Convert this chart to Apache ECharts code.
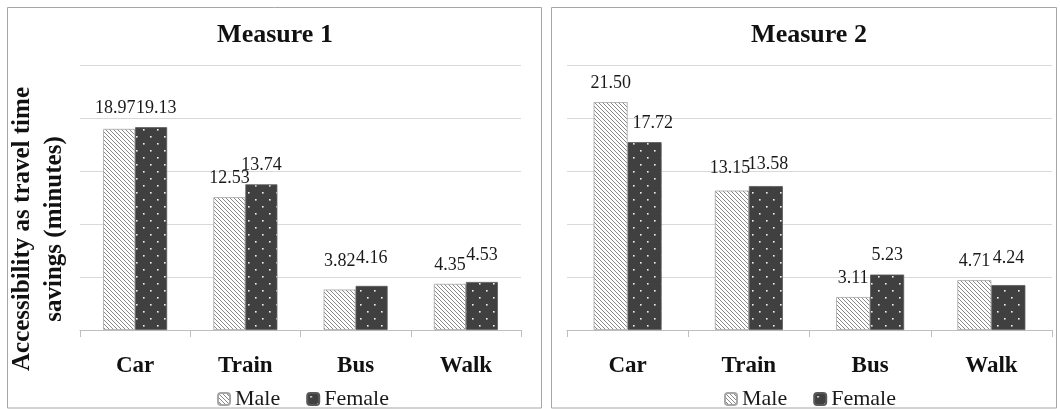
<!DOCTYPE html>
<html>
<head>
<meta charset="utf-8">
<script src="https://cdn.jsdelivr.net/npm/echarts@6/dist/echarts.min.js"></script>
<style>
html,body{margin:0;padding:0;background:#fff;}
#chart{width:1060px;height:409px;}
</style>
</head>
<body>
<div id="chart"></div>
<script>
const categories = ['Car', 'Train', 'Bus', 'Walk'];
const seriesNames = ['Male', 'Female'];
const measure1Male = [18.97, 12.53, 3.82, 4.35];
const measure1Female = [19.13, 13.74, 4.16, 4.53];
const measure2Male = [21.50, 13.15, 3.11, 4.71];
const measure2Female = [17.72, 13.58, 5.23, 4.24];
const panelTitles = ['Measure 1', 'Measure 2'];
const yAxisTitle = 'Accessibility as travel time\nsavings (minutes)';
const yMin = 0, yMax = 25, yStep = 5;

// label nudges (layout only) to mimic the staggered labels of the original
const labelNudge = {
  m1Male:   [[-4, -2], [0, 0], [0, -9], [0, 0]],
  m1Female: [[5, 0], [0, 0], [0, -9], [0, -8]],
  m2Male:   [[0, 0], [-2, -3], [0, 0], [0, 0]],
  m2Female: [[8, 0], [2, -3], [0, 0], [0, -8]]
};

function hatchPattern() {
  const c = document.createElement('canvas');
  c.width = 4; c.height = 4;
  const g = c.getContext('2d');
  g.fillStyle = '#ffffff';
  g.fillRect(0, 0, 4, 4);
  g.strokeStyle = '#7a7a7a';
  g.lineWidth = 0.9;
  g.beginPath();
  g.moveTo(-1, -1); g.lineTo(5, 5);
  g.moveTo(-1, 3); g.lineTo(1, 5);
  g.moveTo(3, -1); g.lineTo(5, 1);
  g.stroke();
  return c;
}
function dotPattern() {
  const c = document.createElement('canvas');
  c.width = 14; c.height = 14;
  const g = c.getContext('2d');
  g.fillStyle = '#404040';
  g.fillRect(0, 0, 14, 14);
  g.fillStyle = '#f2f2f2';
  g.fillRect(3, 3, 1.6, 1.6);
  g.fillRect(10, 10, 1.6, 1.6);
  return c;
}
const maleFill = { image: hatchPattern(), repeat: 'repeat' };
const femaleFill = { image: dotPattern(), repeat: 'repeat' };

const font = "'Liberation Serif', 'Times New Roman', serif";
const grids = [
  { left: 80, right: 539, top: 65, bottom: 79 },
  { left: 567, right: 8, top: 65, bottom: 79 }
];
const barW = [32, 34];

function xAx(i) {
  return {
    type: 'category', gridIndex: i, data: categories,
    axisLine: { lineStyle: { color: '#bfbfbf', width: 1 } },
    axisTick: { show: true, length: 7, lineStyle: { color: '#bfbfbf' } },
    axisLabel: { margin: 25, color: '#111', fontFamily: font, fontWeight: 'bold', fontSize: 23 }
  };
}
function yAx(i) {
  return {
    type: 'value', gridIndex: i, min: yMin, max: yMax, interval: yStep,
    axisLine: { show: false }, axisTick: { show: false }, axisLabel: { show: false },
    splitLine: { lineStyle: { color: '#d9d9d9', width: 1 } }
  };
}
function bar(name, values, nudges, i, fill, border) {
  return {
    name: name, type: 'bar', xAxisIndex: i, yAxisIndex: i,
    data: values.map((v, k) => ({ value: v, label: { offset: nudges[k] } })),
    barWidth: barW[i], barGap: '0%',
    itemStyle: { color: fill, borderColor: border, borderWidth: 0.8 },
    label: {
      show: true, position: 'top', distance: 10,
      formatter: p => p.value.toFixed(2),
      color: '#1a1a1a', fontFamily: font, fontSize: 18
    }
  };
}

const chart = echarts.init(document.getElementById('chart'), null, { renderer: 'canvas' });
chart.setOption({
  backgroundColor: '#ffffff',
  animation: false,
  textStyle: { fontFamily: font },
  title: [
    { text: panelTitles[0], left: 270, top: 17, textAlign: 'center',
      textStyle: { fontFamily: font, fontWeight: 'bold', fontSize: 26, color: '#111' } },
    { text: panelTitles[1], left: 804, top: 17, textAlign: 'center',
      textStyle: { fontFamily: font, fontWeight: 'bold', fontSize: 26, color: '#111' } }
  ],
  legend: [
    { data: seriesNames, left: 212, top: 383, itemWidth: 12, itemHeight: 12, itemGap: 26,
      textStyle: { fontFamily: font, fontSize: 22, color: '#1a1a1a' } },
    { data: seriesNames, left: 719, top: 383, itemWidth: 12, itemHeight: 12, itemGap: 26,
      textStyle: { fontFamily: font, fontSize: 22, color: '#1a1a1a' } }
  ],
  grid: grids,
  xAxis: [xAx(0), xAx(1)],
  yAxis: [yAx(0), yAx(1)],
  series: [
    bar(seriesNames[0], measure1Male, labelNudge.m1Male, 0, maleFill, '#a6a6a6'),
    bar(seriesNames[1], measure1Female, labelNudge.m1Female, 0, femaleFill, '#595959'),
    bar(seriesNames[0], measure2Male, labelNudge.m2Male, 1, maleFill, '#a6a6a6'),
    bar(seriesNames[1], measure2Female, labelNudge.m2Female, 1, femaleFill, '#595959')
  ],
  graphic: [
    { type: 'rect', shape: { x: 7.5, y: 7.5, width: 534, height: 400.5 }, silent: true,
      style: { fill: null, stroke: '#a6a6a6', lineWidth: 1 }, z: -1 },
    { type: 'rect', shape: { x: 551.5, y: 7.5, width: 505, height: 400.5 }, silent: true,
      style: { fill: null, stroke: '#a6a6a6', lineWidth: 1 }, z: -1 },
    { type: 'text', x: 39, y: 229, rotation: Math.PI / 2,
      style: { text: yAxisTitle, align: 'center', verticalAlign: 'middle',
        font: "bold 25px 'Liberation Serif'", fill: '#111', lineHeight: 32 } }
  ]
});
</script>
</body>
</html>
